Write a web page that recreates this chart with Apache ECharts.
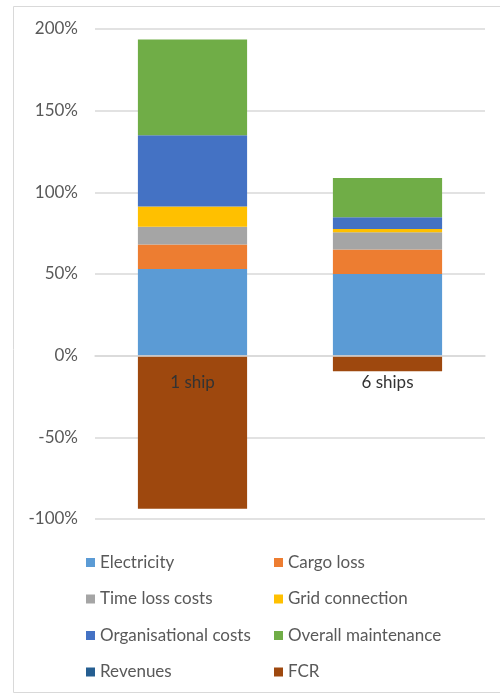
<!DOCTYPE html>
<html>
<head>
<meta charset="utf-8">
<script src="https://cdn.jsdelivr.net/npm/echarts@6/dist/echarts.min.js"></script>
<style>
  html, body { margin: 0; padding: 0; background: #fff; }
  #chart { width: 500px; height: 696px; }
</style>
</head>
<body>
<div id="chart"></div>
<script>
// categories and stacked values (percent)
const categories = ['1 ship', '6 ships'];
const electricity = [53, 50];
const cargoLoss = [15, 15];
const timeLoss = [11, 10.6];
const gridConnection = [12.3, 2];
const organisational = [43.6, 7.2];
const maintenance = [58.7, 24];
const revenues = [0, 0];
const fcr = [-93.7, -9.6];
const yTicks = [-100, -50, 0, 50, 100, 150, 200];

const seriesList = [
  { name: 'Electricity', data: electricity, color: '#5B9BD5' },
  { name: 'Cargo loss', data: cargoLoss, color: '#ED7D31' },
  { name: 'Time loss costs', data: timeLoss, color: '#A5A5A5' },
  { name: 'Grid connection', data: gridConnection, color: '#FFC000' },
  { name: 'Organisational costs', data: organisational, color: '#4472C4' },
  { name: 'Overall maintenance', data: maintenance, color: '#70AD47' },
  { name: 'Revenues', data: revenues, color: '#255E91' },
  { name: 'FCR', data: fcr, color: '#9E480E' }
];

const chart = echarts.init(document.getElementById('chart'));

const legendText = { fontFamily: 'Lato', fontSize: 17, color: '#595959' };

// category axis sits on the 0% line, like Excel's
const plotTop = 29, plotBottom = 177, plotH = 696 - plotTop - plotBottom;
const yMin = yTicks[0], yMax = yTicks[yTicks.length - 1];
const zeroOffset = -plotH * (0 - yMin) / (yMax - yMin);

const option = {
  animation: false,
  graphic: [{
    type: 'rect',
    shape: { x: 13.5, y: 6.5, width: 500, height: 686 },
    style: { fill: 'none', stroke: '#d9d9d9', lineWidth: 1 },
    silent: true
  }],
  grid: { left: 95, right: 15, top: plotTop, bottom: plotBottom },
  legend: [
    {
      orient: 'vertical', left: 81, top: 549,
      icon: 'rect', itemWidth: 9, itemHeight: 9, itemGap: 19.5,
      textStyle: legendText,
      data: ['Electricity', 'Time loss costs', 'Organisational costs', 'Revenues']
    },
    {
      orient: 'vertical', left: 269, top: 549,
      icon: 'rect', itemWidth: 9, itemHeight: 9, itemGap: 19.5,
      textStyle: legendText,
      data: ['Cargo loss', 'Grid connection', 'Overall maintenance', 'FCR']
    }
  ],
  xAxis: {
    type: 'category',
    data: categories,
    z: 10,
    position: 'bottom',
    offset: zeroOffset,
    axisLine: { onZero: false, lineStyle: { color: '#d9d9d9', width: 1.5 } },
    axisTick: { show: false },
    axisLabel: { fontFamily: 'Lato', fontSize: 17, color: '#333333', margin: 18 }
  },
  yAxis: {
    type: 'value',
    min: yMin,
    max: yMax,
    interval: 50,
    axisLine: { show: false },
    axisTick: { show: false },
    splitLine: { lineStyle: { color: '#d9d9d9', width: 1.5 } },
    axisLabel: {
      fontFamily: 'Lato', fontSize: 17, color: '#595959', margin: 17,
      formatter: '{value}%'
    }
  },
  series: seriesList.map(s => ({
    name: s.name,
    type: 'bar',
    stack: 'total',
    barWidth: '56%',
    data: s.data,
    itemStyle: { color: s.color }
  }))
};

chart.setOption(option);
</script>
</body>
</html>
